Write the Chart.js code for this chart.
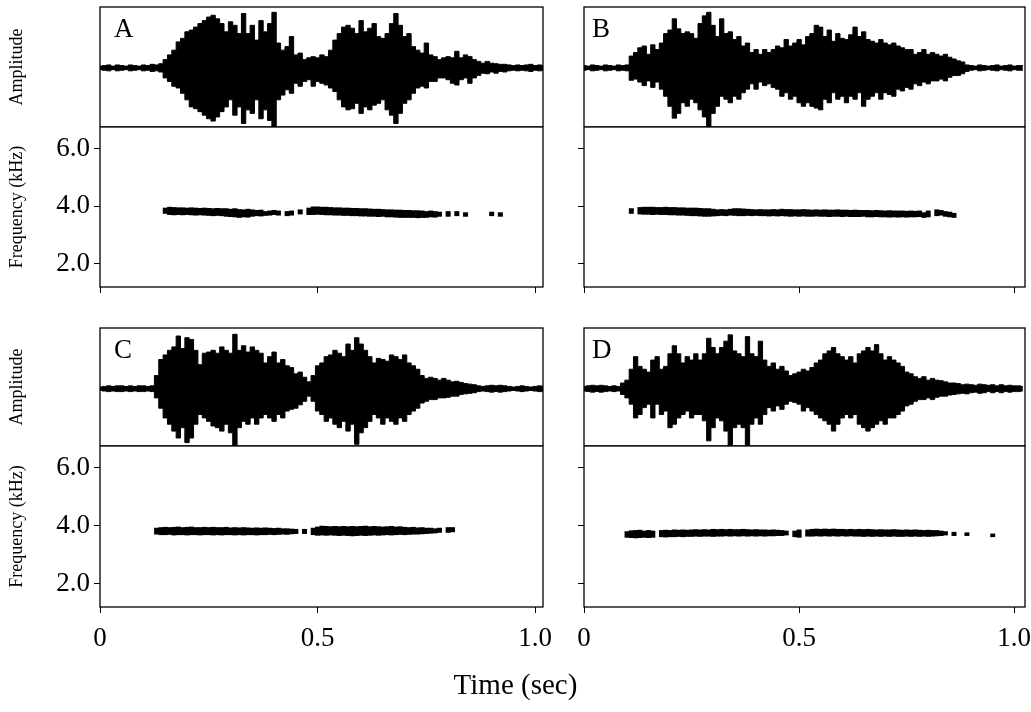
<!DOCTYPE html>
<html><head><meta charset="utf-8">
<script src="https://cdn.jsdelivr.net/npm/chart.js@4/dist/chart.umd.min.js"></script>
<style>
html,body{margin:0;padding:0;background:#fff;overflow:hidden;width:1031px;height:712px;}
canvas{position:absolute;}
#xtitle{position:absolute;left:0;width:1031px;top:666px;text-align:center;font-family:'Liberation Serif','Times New Roman',serif;font-size:29px;line-height:36px;color:#000;}
</style></head><body>
<canvas id="ampA"></canvas><canvas id="freqA"></canvas>
<canvas id="ampB"></canvas><canvas id="freqB"></canvas>
<canvas id="ampC"></canvas><canvas id="freqC"></canvas>
<canvas id="ampD"></canvas><canvas id="freqD"></canvas>
<div id="xtitle"></div>
<script>
// ---------------- DATA ----------------
const panelNames = ['A', 'B', 'C', 'D'];
const ampAxisTitle = 'Amplitude';
const freqAxisTitle = 'Frequency (kHz)';
const timeAxisTitle = 'Time (sec)';
const timeTicks = [0, 0.5, 1.0];
const timeTickLabels = ['0', '0.5', '1.0'];
const freqTicks = [2, 4, 6];
const freqTickLabels = ['2.0', '4.0', '6.0'];

// waveform envelope sample times (sec)
const ampTime = [0,0.01,0.02,0.03,0.04,0.05,0.06,0.07,0.08,0.09,0.1,0.11,0.12,0.13,0.14,0.15,0.16,0.17,0.18,0.19,0.2,0.21,0.22,0.23,0.24,0.25,0.26,0.27,0.28,0.29,0.3,0.31,0.32,0.33,0.34,0.35,0.36,0.37,0.38,0.39,0.4,0.41,0.42,0.43,0.44,0.45,0.46,0.47,0.48,0.49,0.5,0.51,0.52,0.53,0.54,0.55,0.56,0.57,0.58,0.59,0.6,0.61,0.62,0.63,0.64,0.65,0.66,0.67,0.68,0.69,0.7,0.71,0.72,0.73,0.74,0.75,0.76,0.77,0.78,0.79,0.8,0.81,0.82,0.83,0.84,0.85,0.86,0.87,0.88,0.89,0.9,0.91,0.92,0.93,0.94,0.95,0.96,0.97,0.98,0.99,1,1.01,1.02];

// Panel A waveform (upper / lower envelope, relative amplitude)
const ampUpA = [0.03,0.04,0.05,0.03,0.05,0.04,0.03,0.05,0.04,0.03,0.05,0.04,0.06,0.05,0.07,
0.14,0.22,0.30,0.44,0.50,0.61,0.64,0.69,0.75,0.80,0.86,0.89,0.83,0.75,0.61,
0.78,0.72,0.58,0.92,0.58,0.72,0.47,0.80,0.61,0.75,0.94,0.42,0.30,0.36,0.53,
0.22,0.25,0.14,0.17,0.19,0.17,0.22,0.19,0.30,0.47,0.58,0.69,0.72,0.67,0.58,
0.80,0.61,0.67,0.75,0.53,0.50,0.58,0.75,0.92,0.72,0.53,0.58,0.36,0.30,0.25,
0.42,0.22,0.19,0.14,0.17,0.19,0.17,0.28,0.17,0.22,0.19,0.14,0.11,0.08,0.11,
0.08,0.07,0.06,0.06,0.05,0.04,0.05,0.04,0.05,0.06,0.04,0.05,0.04];
const ampLowA = [-0.03,-0.04,-0.05,-0.03,-0.05,-0.04,-0.03,-0.05,-0.04,-0.03,-0.05,-0.04,-0.06,-0.05,-0.07,
-0.17,-0.23,-0.31,-0.34,-0.43,-0.54,-0.66,-0.69,-0.74,-0.80,-0.86,-0.90,-0.83,-0.74,-0.66,
-0.54,-0.80,-0.66,-0.94,-0.71,-0.77,-0.54,-0.86,-0.71,-0.89,-1.00,-0.54,-0.46,-0.37,-0.43,
-0.26,-0.31,-0.23,-0.20,-0.31,-0.23,-0.26,-0.29,-0.34,-0.40,-0.54,-0.66,-0.71,-0.69,-0.60,
-0.77,-0.66,-0.71,-0.63,-0.60,-0.54,-0.71,-0.80,-0.94,-0.77,-0.60,-0.54,-0.43,-0.34,-0.31,
-0.34,-0.23,-0.23,-0.17,-0.17,-0.20,-0.26,-0.29,-0.20,-0.17,-0.26,-0.17,-0.13,-0.09,-0.10,
-0.07,-0.09,-0.06,-0.07,-0.05,-0.04,-0.05,-0.04,-0.05,-0.06,-0.04,-0.05,-0.04];

// Panel B waveform
const ampUpB = [0.04,0.03,0.05,0.04,0.03,0.05,0.04,0.03,0.05,0.04,0.05,0.20,0.26,0.34,0.37,
0.23,0.39,0.31,0.42,0.58,0.64,0.83,0.66,0.58,0.61,0.58,0.50,0.75,0.88,0.94,
0.72,0.53,0.83,0.58,0.61,0.48,0.53,0.37,0.42,0.26,0.31,0.23,0.31,0.26,0.31,
0.37,0.34,0.48,0.37,0.42,0.48,0.39,0.53,0.58,0.72,0.69,0.53,0.64,0.45,0.58,
0.50,0.48,0.56,0.69,0.53,0.61,0.48,0.45,0.42,0.48,0.42,0.39,0.42,0.37,0.34,
0.31,0.31,0.23,0.26,0.31,0.23,0.26,0.23,0.20,0.23,0.18,0.15,0.12,0.10,0.05,
0.04,0.03,0.05,0.04,0.03,0.04,0.05,0.03,0.04,0.05,0.03,0.04,0.04];
const ampLowB = [-0.04,-0.03,-0.05,-0.04,-0.03,-0.05,-0.04,-0.03,-0.05,-0.04,-0.05,-0.21,-0.19,-0.24,-0.30,
-0.22,-0.33,-0.24,-0.36,-0.48,-0.65,-0.85,-0.77,-0.59,-0.65,-0.53,-0.59,-0.71,-0.83,-0.99,
-0.77,-0.65,-0.48,-0.53,-0.59,-0.48,-0.53,-0.42,-0.36,-0.27,-0.36,-0.24,-0.30,-0.27,-0.33,
-0.36,-0.48,-0.42,-0.53,-0.48,-0.59,-0.65,-0.59,-0.65,-0.68,-0.71,-0.53,-0.59,-0.42,-0.53,
-0.48,-0.59,-0.48,-0.53,-0.42,-0.65,-0.53,-0.48,-0.42,-0.53,-0.42,-0.45,-0.48,-0.36,-0.39,
-0.33,-0.36,-0.27,-0.30,-0.24,-0.27,-0.22,-0.22,-0.19,-0.22,-0.16,-0.13,-0.13,-0.10,-0.06,
-0.04,-0.03,-0.05,-0.04,-0.03,-0.04,-0.05,-0.03,-0.04,-0.05,-0.03,-0.04,-0.04];

// Panel C waveform
const ampUpC = [0.03,0.04,0.05,0.04,0.05,0.05,0.04,0.05,0.04,0.05,0.05,0.04,0.05,0.23,0.51,
0.59,0.67,0.73,0.92,0.70,0.89,0.86,0.67,0.42,0.62,0.64,0.67,0.62,0.73,0.67,
0.62,0.95,0.67,0.75,0.64,0.73,0.67,0.62,0.45,0.56,0.64,0.45,0.51,0.40,0.37,
0.26,0.29,0.20,0.12,0.23,0.40,0.45,0.56,0.59,0.67,0.62,0.56,0.78,0.67,0.89,
0.78,0.67,0.56,0.45,0.53,0.51,0.48,0.59,0.56,0.51,0.59,0.45,0.40,0.34,0.23,
0.18,0.20,0.18,0.15,0.18,0.15,0.12,0.13,0.11,0.09,0.08,0.07,0.05,0.04,0.05,
0.06,0.05,0.06,0.05,0.04,0.03,0.04,0.05,0.04,0.03,0.04,0.05,0.04];
const ampLowC = [-0.03,-0.04,-0.05,-0.04,-0.05,-0.05,-0.04,-0.05,-0.04,-0.05,-0.05,-0.04,-0.05,-0.16,-0.34,
-0.51,-0.62,-0.74,-0.86,-0.68,-0.94,-0.86,-0.62,-0.45,-0.51,-0.57,-0.65,-0.68,-0.74,-0.62,
-0.77,-1.00,-0.68,-0.57,-0.62,-0.51,-0.62,-0.51,-0.45,-0.51,-0.57,-0.45,-0.51,-0.39,-0.36,
-0.34,-0.28,-0.22,-0.13,-0.22,-0.39,-0.45,-0.57,-0.51,-0.62,-0.68,-0.57,-0.74,-0.62,-0.97,
-0.77,-0.68,-0.57,-0.45,-0.51,-0.62,-0.51,-0.57,-0.62,-0.51,-0.57,-0.45,-0.39,-0.34,-0.25,
-0.22,-0.19,-0.19,-0.16,-0.16,-0.15,-0.13,-0.13,-0.10,-0.09,-0.08,-0.07,-0.05,-0.04,-0.05,
-0.06,-0.05,-0.06,-0.05,-0.04,-0.03,-0.04,-0.05,-0.04,-0.03,-0.04,-0.05,-0.04];

// Panel D waveform
const ampUpD = [0.04,0.05,0.06,0.05,0.06,0.05,0.04,0.05,0.04,0.10,0.15,0.34,0.56,0.39,0.34,
0.29,0.50,0.56,0.34,0.39,0.61,0.75,0.61,0.45,0.56,0.50,0.61,0.50,0.61,0.88,
0.72,0.61,0.72,0.83,0.94,0.66,0.61,0.56,0.91,0.61,0.56,0.83,0.50,0.39,0.45,
0.34,0.39,0.31,0.23,0.26,0.29,0.34,0.31,0.37,0.45,0.50,0.61,0.66,0.72,0.61,
0.56,0.50,0.56,0.45,0.61,0.66,0.72,0.66,0.77,0.61,0.50,0.56,0.50,0.45,0.39,
0.29,0.26,0.21,0.18,0.21,0.15,0.18,0.15,0.14,0.12,0.10,0.10,0.09,0.07,0.08,
0.07,0.06,0.08,0.07,0.06,0.07,0.05,0.07,0.05,0.06,0.05,0.05,0.04];
const ampLowD = [-0.04,-0.05,-0.06,-0.05,-0.06,-0.05,-0.04,-0.05,-0.04,-0.10,-0.16,-0.27,-0.51,-0.45,-0.33,
-0.27,-0.51,-0.27,-0.45,-0.39,-0.68,-0.62,-0.51,-0.45,-0.39,-0.51,-0.45,-0.45,-0.56,-0.91,
-0.68,-0.51,-0.56,-0.74,-1.00,-0.68,-0.62,-0.68,-1.00,-0.62,-0.51,-0.62,-0.45,-0.33,-0.39,
-0.30,-0.36,-0.27,-0.22,-0.24,-0.27,-0.39,-0.33,-0.39,-0.45,-0.51,-0.56,-0.62,-0.74,-0.62,
-0.51,-0.45,-0.51,-0.45,-0.62,-0.68,-0.74,-0.68,-0.62,-0.56,-0.62,-0.51,-0.51,-0.45,-0.39,
-0.30,-0.27,-0.22,-0.19,-0.19,-0.16,-0.19,-0.15,-0.13,-0.13,-0.11,-0.10,-0.09,-0.08,-0.09,
-0.07,-0.06,-0.08,-0.07,-0.05,-0.07,-0.05,-0.07,-0.05,-0.06,-0.05,-0.05,-0.04];

// Spectrogram bands: time (sec), lower and upper edge of the dark band (kHz)
const specTimeA = [0.15,0.16,0.17,0.18,0.19,0.2,0.21,0.22,0.23,0.24,0.25,0.26,0.27,0.28,0.29,0.3,0.31,0.32,0.33,0.34,0.35,0.36,0.37,0.38,0.39,0.4,0.41,0.43,0.44,0.46,0.48,0.49,0.5,0.51,0.52,0.53,0.54,0.55,0.56,0.57,0.58,0.59,0.6,0.61,0.62,0.63,0.64,0.65,0.66,0.67,0.68,0.69,0.7,0.71,0.72,0.73,0.74,0.75,0.76,0.77,0.78,0.8,0.82,0.84,0.9,0.92];
const specLowA = [3.75,3.71,3.70,3.71,3.70,3.71,3.70,3.69,3.70,3.69,3.68,3.67,3.68,3.67,3.65,3.64,3.63,3.61,3.63,3.62,3.65,3.67,3.66,3.68,3.69,3.71,3.69,3.67,3.69,3.73,3.71,3.71,3.72,3.71,3.70,3.70,3.69,3.69,3.68,3.68,3.67,3.67,3.66,3.66,3.65,3.65,3.64,3.65,3.63,3.63,3.62,3.61,3.61,3.61,3.61,3.60,3.61,3.61,3.63,3.62,3.65,3.65,3.67,3.65,3.67,3.65];
const specHighA = [3.94,3.97,3.96,3.95,3.95,3.94,3.95,3.94,3.93,3.94,3.93,3.92,3.93,3.92,3.92,3.90,3.92,3.89,3.88,3.90,3.88,3.86,3.87,3.82,3.84,3.86,3.84,3.82,3.84,3.88,3.94,3.98,3.98,3.97,3.97,3.96,3.95,3.95,3.94,3.94,3.93,3.93,3.92,3.92,3.91,3.90,3.90,3.89,3.88,3.88,3.87,3.87,3.86,3.86,3.85,3.85,3.84,3.82,3.84,3.82,3.80,3.82,3.82,3.78,3.80,3.78];

const specTimeB = [0.11,0.13,0.14,0.15,0.16,0.17,0.18,0.19,0.2,0.21,0.22,0.23,0.24,0.25,0.26,0.27,0.28,0.29,0.3,0.31,0.32,0.33,0.34,0.35,0.36,0.37,0.38,0.39,0.4,0.41,0.42,0.43,0.44,0.45,0.46,0.47,0.48,0.49,0.5,0.51,0.52,0.53,0.54,0.55,0.56,0.57,0.58,0.59,0.6,0.61,0.62,0.63,0.64,0.65,0.66,0.67,0.68,0.69,0.7,0.71,0.72,0.73,0.74,0.75,0.76,0.77,0.78,0.79,0.8,0.82,0.83,0.84,0.85,0.86];
const specLowB = [3.75,3.73,3.72,3.72,3.71,3.72,3.71,3.71,3.70,3.70,3.69,3.69,3.68,3.67,3.67,3.66,3.65,3.65,3.66,3.67,3.68,3.67,3.69,3.68,3.67,3.67,3.68,3.67,3.68,3.67,3.67,3.66,3.67,3.66,3.67,3.66,3.65,3.66,3.65,3.66,3.65,3.65,3.66,3.65,3.65,3.64,3.65,3.65,3.64,3.65,3.64,3.64,3.64,3.65,3.63,3.63,3.64,3.63,3.63,3.62,3.63,3.62,3.63,3.62,3.63,3.63,3.64,3.61,3.63,3.67,3.69,3.65,3.63,3.61];
const specHighB = [3.92,3.96,3.97,3.97,3.97,3.96,3.96,3.97,3.96,3.96,3.95,3.95,3.94,3.94,3.94,3.93,3.92,3.92,3.90,3.88,3.89,3.88,3.90,3.92,3.92,3.91,3.90,3.89,3.88,3.89,3.88,3.88,3.89,3.88,3.90,3.89,3.89,3.88,3.88,3.89,3.88,3.87,3.88,3.87,3.88,3.87,3.87,3.88,3.87,3.87,3.86,3.87,3.86,3.86,3.86,3.85,3.86,3.85,3.84,3.85,3.84,3.84,3.84,3.83,3.84,3.83,3.84,3.78,3.84,3.88,3.86,3.82,3.80,3.76];

const specTimeC = [0.13,0.14,0.15,0.16,0.17,0.18,0.19,0.2,0.21,0.22,0.23,0.24,0.25,0.26,0.27,0.28,0.29,0.3,0.31,0.32,0.33,0.34,0.35,0.36,0.37,0.38,0.39,0.4,0.41,0.42,0.43,0.44,0.45,0.47,0.49,0.5,0.51,0.52,0.53,0.54,0.55,0.56,0.57,0.58,0.59,0.6,0.61,0.62,0.63,0.64,0.65,0.66,0.67,0.68,0.69,0.7,0.71,0.72,0.73,0.74,0.75,0.76,0.77,0.78,0.8,0.81];
const specLowC = [3.71,3.69,3.69,3.70,3.68,3.69,3.69,3.68,3.69,3.69,3.68,3.69,3.69,3.68,3.69,3.68,3.69,3.69,3.68,3.69,3.68,3.69,3.69,3.68,3.69,3.69,3.70,3.69,3.70,3.71,3.70,3.72,3.73,3.73,3.69,3.67,3.68,3.67,3.68,3.67,3.66,3.67,3.66,3.65,3.66,3.67,3.66,3.67,3.68,3.67,3.68,3.69,3.68,3.69,3.70,3.69,3.70,3.71,3.71,3.72,3.73,3.74,3.75,3.77,3.77,3.79];
const specHighC = [3.92,3.94,3.95,3.94,3.95,3.96,3.94,3.95,3.96,3.94,3.94,3.95,3.94,3.95,3.94,3.94,3.95,3.93,3.94,3.93,3.94,3.93,3.92,3.93,3.92,3.93,3.92,3.91,3.92,3.90,3.90,3.89,3.88,3.88,3.92,3.96,3.99,3.98,3.97,3.98,3.97,3.98,3.97,3.98,3.97,3.98,3.99,3.97,3.98,3.97,3.96,3.97,3.98,3.96,3.97,3.95,3.94,3.95,3.93,3.94,3.92,3.92,3.90,3.92,3.94,3.94];

const specTimeD = [0.1,0.11,0.12,0.13,0.14,0.15,0.16,0.18,0.19,0.2,0.21,0.22,0.23,0.24,0.25,0.26,0.27,0.28,0.29,0.3,0.31,0.32,0.33,0.34,0.35,0.36,0.37,0.38,0.39,0.4,0.41,0.42,0.43,0.44,0.45,0.46,0.47,0.49,0.5,0.52,0.53,0.54,0.55,0.56,0.57,0.58,0.59,0.6,0.61,0.62,0.63,0.64,0.65,0.66,0.67,0.68,0.69,0.7,0.71,0.72,0.73,0.74,0.75,0.76,0.77,0.78,0.79,0.8,0.81,0.82,0.83,0.84,0.86,0.89,0.95];
const specLowD = [3.60,3.59,3.58,3.59,3.60,3.59,3.60,3.62,3.61,3.62,3.62,3.63,3.62,3.63,3.63,3.64,3.63,3.64,3.64,3.63,3.64,3.64,3.65,3.64,3.65,3.64,3.65,3.64,3.65,3.64,3.65,3.64,3.65,3.65,3.66,3.66,3.68,3.62,3.60,3.64,3.64,3.65,3.64,3.65,3.64,3.65,3.64,3.65,3.64,3.65,3.64,3.64,3.63,3.64,3.63,3.64,3.63,3.64,3.63,3.64,3.63,3.63,3.64,3.63,3.64,3.63,3.64,3.63,3.64,3.65,3.66,3.68,3.66,3.66,3.62];
const specHighD = [3.80,3.83,3.84,3.85,3.82,3.84,3.82,3.84,3.85,3.84,3.86,3.85,3.86,3.85,3.86,3.87,3.86,3.87,3.86,3.88,3.87,3.88,3.87,3.88,3.87,3.87,3.88,3.87,3.86,3.87,3.86,3.86,3.85,3.86,3.85,3.84,3.82,3.82,3.86,3.86,3.88,3.89,3.88,3.89,3.88,3.89,3.88,3.88,3.87,3.88,3.87,3.88,3.87,3.88,3.87,3.86,3.87,3.86,3.86,3.87,3.86,3.85,3.86,3.85,3.86,3.85,3.84,3.85,3.84,3.84,3.82,3.80,3.78,3.76,3.72];

// ---------------- LAYOUT / STYLE ----------------
const FONT = "'Liberation Serif','Times New Roman',serif";
Chart.defaults.font.family = FONT;
Chart.defaults.color = '#000';
const PADT = 4, PADT_F = 24, PADR = 24;
const FREQ_MIN = 1.2, FREQ_MAX = 6.75;
const cols = [
  {plotL: 100, plotR: 543, canvasL: 0,   yW: 100, labelDx: 14, showY: true,  tMax: 1.018},
  {plotL: 584, plotR: 1025, canvasL: 560, yW: 24, labelDx: 8,  showY: false, tMax: 1.025}
];
const rows = [
  {ampT: 7,   divY: 127, freqB: 287, ampMax: 1.03, xH: 24, bottomLabels: false},
  {ampT: 328, divY: 446, freqB: 607, ampMax: 1.06, xH: 60, bottomLabels: true}
];
const panels = [
  {name: panelNames[0], row: 0, col: 0, up: ampUpA, low: ampLowA, st: specTimeA, sl: specLowA, sh: specHighA, ampId: 'ampA', freqId: 'freqA'},
  {name: panelNames[1], row: 0, col: 1, up: ampUpB, low: ampLowB, st: specTimeB, sl: specLowB, sh: specHighB, ampId: 'ampB', freqId: 'freqB'},
  {name: panelNames[2], row: 1, col: 0, up: ampUpC, low: ampLowC, st: specTimeC, sl: specLowC, sh: specHighC, ampId: 'ampC', freqId: 'freqC'},
  {name: panelNames[3], row: 1, col: 1, up: ampUpD, low: ampLowD, st: specTimeD, sl: specLowD, sh: specHighD, ampId: 'ampD', freqId: 'freqD'}
];

const framePlugin = {
  id: 'frame',
  afterDatasetsDraw(chart) {
    const a = chart.chartArea, ctx = chart.ctx;
    ctx.save();
    ctx.strokeStyle = '#000';
    ctx.lineWidth = 1.3;
    ctx.strokeRect(a.left, a.top, a.right - a.left, a.bottom - a.top);
    ctx.restore();
  }
};
const labelPlugin = {
  id: 'panelLabel',
  afterDatasetsDraw(chart, args, opts) {
    if (!opts || !opts.text) return;
    const a = chart.chartArea, ctx = chart.ctx;
    ctx.save();
    ctx.font = '27px ' + FONT;
    ctx.fillStyle = '#000';
    ctx.textBaseline = 'alphabetic';
    ctx.textAlign = 'left';
    ctx.fillText(opts.text, a.left + opts.dx, a.top + 30);
    ctx.restore();
  }
};

function place(id, left, top, width, height) {
  const c = document.getElementById(id);
  c.width = width; c.height = height;
  c.style.left = left + 'px'; c.style.top = top + 'px';
  c.style.width = width + 'px'; c.style.height = height + 'px';
  return c;
}

const tickGrid = {display: true, drawOnChartArea: false, drawTicks: true, tickLength: 6, color: '#000', lineWidth: 1, offset: false};

panels.forEach(p => {
  const col = cols[p.col], row = rows[p.row];
  // amplitude (oscillogram)
  const ampTop = row.ampT - PADT;
  const ampCanvas = place(p.ampId, col.canvasL, ampTop, col.plotR + PADR - col.canvasL, row.divY - ampTop);
  new Chart(ampCanvas, {
    type: 'line',
    data: {
      datasets: [
        {data: ampTime.map((t, i) => ({x: t, y: p.up[i]})), fill: false, borderColor: '#000', backgroundColor: '#000', borderWidth: 1, pointRadius: 0, tension: 0, stepped: 'middle'},
        {data: ampTime.map((t, i) => ({x: t, y: p.low[i]})), fill: '-1', borderColor: '#000', backgroundColor: '#000', borderWidth: 1, pointRadius: 0, tension: 0, stepped: 'middle'}
      ]
    },
    options: {
      responsive: false, animation: false, devicePixelRatio: 1,
      layout: {padding: {top: PADT, right: PADR, left: 0, bottom: 0}},
      scales: {
        x: {type: 'linear', min: 0, max: col.tMax, display: false},
        y: {
          type: 'linear', min: -1, max: row.ampMax, display: true,
          grid: {display: false}, border: {display: false}, ticks: {display: false},
          title: {display: col.showY, text: ampAxisTitle, font: {size: 18, family: FONT}, color: '#000', padding: {top: 6, bottom: 0}},
          afterFit(s) { s.width = col.yW; }
        }
      },
      plugins: {legend: {display: false}, tooltip: {enabled: false}, panelLabel: {text: p.name, dx: col.labelDx}}
    },
    plugins: [framePlugin, labelPlugin]
  });

  // spectrogram
  const fTop = row.divY - PADT_F;
  const freqCanvas = place(p.freqId, col.canvasL, fTop, col.plotR + PADR - col.canvasL, row.freqB + row.xH - fTop);
  new Chart(freqCanvas, {
    type: 'bar',
    data: {
      datasets: [{
        data: p.st.map((t, i) => ({x: t, y: [p.sl[i], p.sh[i]]})),
        backgroundColor: '#000', borderWidth: 0, barPercentage: 1, categoryPercentage: 1
      }]
    },
    options: {
      responsive: false, animation: false, devicePixelRatio: 1,
      layout: {padding: {top: PADT_F, right: PADR, left: 0, bottom: 0}},
      scales: {
        x: {
          type: 'linear', min: 0, max: col.tMax, offset: false,
          grid: tickGrid, border: {display: false},
          ticks: {display: row.bottomLabels, font: {size: 27, family: FONT}, color: '#000', padding: 10, maxRotation: 0, autoSkip: false,
                  callback: v => timeTickLabels[timeTicks.indexOf(v)]},
          afterBuildTicks(s) { s.ticks = timeTicks.map(v => ({value: v})); },
          afterFit(s) { s.height = row.xH; }
        },
        y: {
          type: 'linear', min: FREQ_MIN, max: FREQ_MAX,
          grid: tickGrid, border: {display: false},
          ticks: {display: col.showY, font: {size: 27, family: FONT}, color: '#000', padding: 4,
                  callback: v => freqTickLabels[freqTicks.indexOf(v)]},
          afterBuildTicks(s) { s.ticks = freqTicks.map(v => ({value: v})); },
          title: {display: col.showY, text: freqAxisTitle, font: {size: 18, family: FONT}, color: '#000', padding: {top: 6, bottom: 0}},
          afterFit(s) { s.width = col.yW; }
        }
      },
      plugins: {legend: {display: false}, tooltip: {enabled: false}, panelLabel: {text: ''}}
    },
    plugins: [framePlugin, labelPlugin]
  });
});

document.getElementById('xtitle').textContent = timeAxisTitle;
</script>
</body></html>
